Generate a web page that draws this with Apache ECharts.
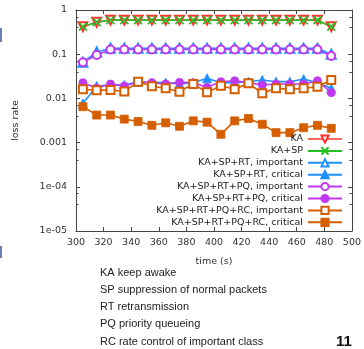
<!DOCTYPE html>
<html><head><meta charset="utf-8">
<script src="https://cdn.jsdelivr.net/npm/echarts@6/dist/echarts.min.js"></script>
<style>html,body{margin:0;padding:0;background:#fff}#c{width:364px;height:349px}</style>
</head><body><div id="c"></div>
<script>
const times = [305,315,325,335,345,355,365,375,385,395,405,415,425,435,445,455,465,475,485];
const ka      = [0.42,0.53,0.59,0.59,0.59,0.59,0.59,0.59,0.59,0.59,0.59,0.59,0.59,0.59,0.59,0.59,0.59,0.59,0.42];
const kaSp    = [0.42,0.53,0.59,0.59,0.59,0.59,0.59,0.59,0.59,0.59,0.59,0.59,0.59,0.59,0.59,0.59,0.59,0.59,0.42];
const rtImp   = [0.066,0.112,0.136,0.136,0.136,0.136,0.136,0.136,0.136,0.136,0.136,0.136,0.136,0.136,0.136,0.136,0.136,0.136,0.100];
const rtCrit  = [0.0077,0.0191,0.0201,0.0201,0.0239,0.0227,0.0227,0.0212,0.0227,0.0285,0.0227,0.0227,0.0239,0.0261,0.0239,0.0239,0.0275,0.0227,0.0169];
const pqImp   = [0.066,0.096,0.128,0.128,0.128,0.128,0.128,0.128,0.128,0.128,0.128,0.128,0.128,0.128,0.128,0.128,0.128,0.128,0.091];
const pqCrit  = [0.0227,0.0172,0.0212,0.0191,0.0239,0.0227,0.0212,0.0231,0.0227,0.0178,0.0239,0.0251,0.0227,0.0201,0.0212,0.0212,0.0212,0.0251,0.0135];
const rcImp   = [0.0161,0.0153,0.0155,0.0143,0.0239,0.0188,0.0169,0.0142,0.0212,0.0137,0.0194,0.0161,0.0220,0.0130,0.0169,0.0161,0.0169,0.0184,0.0261];
const rcCrit  = [0.0065,0.0042,0.0042,0.0034,0.0030,0.00246,0.0028,0.00234,0.0031,0.0029,0.00154,0.0031,0.0035,0.0026,0.00168,0.00168,0.00217,0.00246,0.0021];
const xTicks = [300,320,340,360,380,400,420,440,460,480,500];
const yTickLabels = ['1','0.1','0.01','0.001','1e-04','1e-05'];
const notes = ['KA keep awake','SP suppression of normal packets','RT retransmission','PQ priority queueing','RC rate control of important class'];
const names = ['KA','KA+SP','KA+SP+RT, important','KA+SP+RT, critical','KA+SP+RT+PQ, important','KA+SP+RT+PQ, critical','KA+SP+RT+PQ+RC, important','KA+SP+RT+PQ+RC, critical'];

const pts = arr => times.map((t,i)=>[t,arr[i]]);
const RED='#ff3030', GREEN='#22c022', BLUE='#1e90ff', MAG='#c038f0', ORG='#d55e00';
const xPath = 'path://M0,0L10,10M10,0L0,10';
function S(name, data, color, symbol, size, filled, extra){
  return Object.assign({
    name, type:'line', data:pts(data), xAxisIndex:0, yAxisIndex:0,
    symbol, symbolSize:size, showSymbol:true, showAllSymbol:true, animation:false,
    lineStyle:{color, width:1.6},
    itemStyle: filled ? {color, borderColor:color, borderWidth:0.8} : {color, borderColor:color, borderWidth:1.4},
    emphasis:{disabled:true}
  }, extra||{});
}
const series = [
  S(names[0], ka, RED, 'emptyTriangle', 9, false, {symbolRotate:180, lineStyle:{color:'#ff6a5a',width:1.6}}),
  S(names[1], kaSp, GREEN, xPath, 8, false, {itemStyle:{color:GREEN,borderColor:GREEN,borderWidth:1.6}}),
  S(names[2], rtImp, BLUE, 'emptyTriangle', 9, false),
  S(names[3], rtCrit, BLUE, 'triangle', 9, true),
  S(names[4], pqImp, MAG, 'emptyCircle', 8, false),
  S(names[5], pqCrit, MAG, 'circle', 8, true),
  S(names[6], rcImp, ORG, 'emptyRect', 8, false),
  S(names[7], rcCrit, ORG, 'rect', 8, true)
];

const axisLine = {show:true, lineStyle:{color:'#444', width:1}};
const option = {
  animation:false,
  grid:{left:76, right:9, top:10, bottom:118, containLabel:false},
  xAxis:[{
    type:'value', min:300, max:500, interval:20, position:'bottom',
    name:'time (s)', nameLocation:'middle', nameGap:26,
    nameTextStyle:{fontFamily:'DejaVu Sans', fontSize:9.5, color:'#333'},
    axisLine, axisTick:{inside:true, length:4, lineStyle:{color:'#444'}},
    axisLabel:{fontFamily:'DejaVu Sans', fontSize:9.5, color:'#333', margin:7},
    splitLine:{show:false}
  },{
    type:'value', min:300, max:500, interval:20, position:'top',
    axisLine, axisTick:{inside:true, length:4, lineStyle:{color:'#444'}},
    axisLabel:{show:false}, splitLine:{show:false}
  }],
  yAxis:[{
    type:'log', logBase:10, min:1e-5, max:1, splitNumber:5, position:'left',
    name:'loss rate', nameLocation:'middle', nameGap:55, nameRotate:90,
    nameTextStyle:{fontFamily:'DejaVu Sans', fontSize:9.5, color:'#333'},
    axisLine, axisTick:{inside:true, length:4, lineStyle:{color:'#444'}},
    minorTick:{show:true, splitNumber:3, length:2.5, lineStyle:{color:'#444'}},
    axisLabel:{fontFamily:'DejaVu Sans', fontSize:9.5, color:'#333', margin:9,
      formatter: v => yTickLabels[Math.round(-Math.log10(v))]},
    splitLine:{show:false}, minorSplitLine:{show:false}
  },{
    type:'log', logBase:10, min:1e-5, max:1, splitNumber:5, position:'right',
    axisLine, axisTick:{inside:true, length:4, lineStyle:{color:'#444'}},
    minorTick:{show:true, splitNumber:3, length:2.5, lineStyle:{color:'#444'}},
    axisLabel:{show:false}, splitLine:{show:false}, minorSplitLine:{show:false}
  }],
  legend:{
    orient:'vertical', right:21, top:134, align:'right', padding:0,
    itemWidth:34, itemHeight:9, itemGap:1.9,
    textStyle:{fontFamily:'DejaVu Sans', fontSize:9.5, color:'#222', lineHeight:9, height:9, padding:0},
    data:names
  },
  series,
  graphic:[
    {type:'rect', shape:{x:0,y:28,width:2,height:14}, style:{fill:'#6a7fb0'}},
    {type:'rect', shape:{x:0,y:246,width:2,height:12}, style:{fill:'#6a7fb0'}},
    ...notes.map((t,i)=>({type:'text', left:100, top:267+i*17.3,
      style:{text:t, font:'11px "Liberation Sans", Arial, sans-serif', fill:'#222'}})),
    {type:'text', left:336, top:334, style:{text:'11', font:'bold 15px "Liberation Sans", Arial, sans-serif', fill:'#111'}}
  ]
};
echarts.init(document.getElementById('c'), null, {renderer:'canvas'}).setOption(option);
</script></body></html>
